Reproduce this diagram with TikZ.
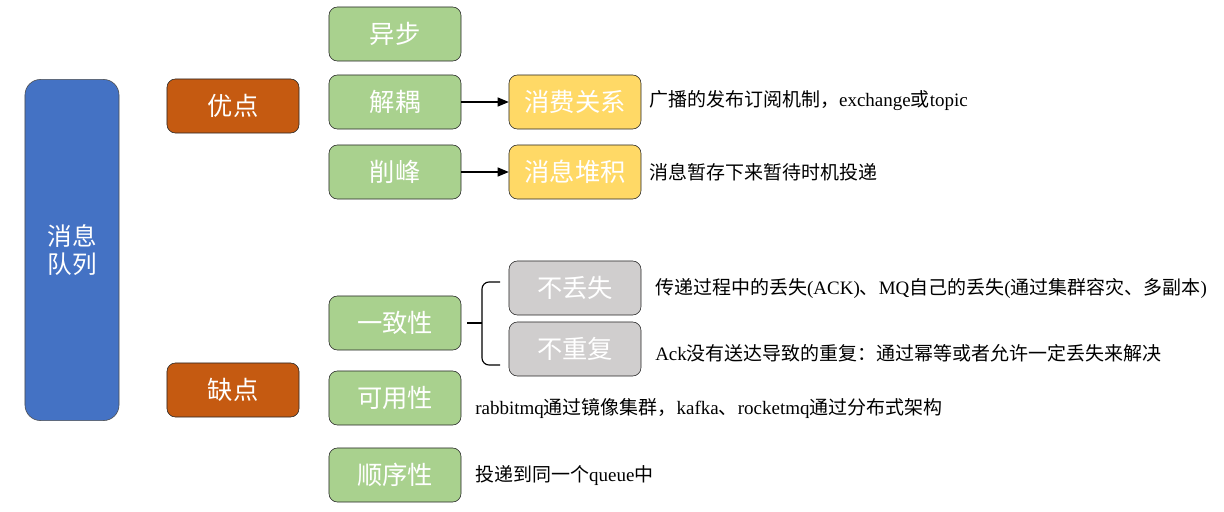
\documentclass[tikz,border=0pt]{standalone}
\usepackage{fontspec}
\setmainfont{Liberation Serif}
\newfontfamily\cjk{Noto Sans CJK SC}
\usepackage{xcolor}
\usetikzlibrary{arrows}
\definecolor{mqblue}{HTML}{4472C4}
\definecolor{mqorange}{HTML}{C55A11}
\definecolor{mqgreen}{HTML}{A9D18E}
\definecolor{mqyellow}{HTML}{FFD966}
\definecolor{mqgrey}{HTML}{D0CECE}
\tikzstyle{topic} = [rectangle, rounded corners=11pt, minimum width=2.35cm, minimum height=8.525cm, draw=black!70, fill=mqblue, text=white, align=center, font=\cjk\fontsize{17.5}{20}\selectfont]
\tikzstyle{kind} = [rectangle, rounded corners=6pt, minimum width=3.3cm, minimum height=1.35cm, inner sep=0pt, draw=black!85, fill=mqorange, text=white, font=\cjk\fontsize{18}{20}\selectfont]
\tikzstyle{feature} = [kind, fill=mqgreen]
\tikzstyle{detail} = [kind, fill=mqyellow]
\tikzstyle{guarantee} = [kind, fill=mqgrey]
\tikzstyle{note} = [anchor=west, inner sep=0pt, font=\fontsize{13.5}{16}\selectfont]
\tikzstyle{arrow} = [thick,-triangle 45]

\begin{document}
\begin{tikzpicture}[x=0.025cm, y=-0.025cm]
            \useasboundingbox (0,0) rectangle (1224,512);
            \node (mq) [topic] at (72,250) {消息\\队列};
            \node (pros) [kind] at (233,106) {优点};
            \node (cons) [kind] at (233,390) {缺点};

            \node (async) [feature] at (395,34) {异步};
            \node (decouple) [feature] at (395,102) {解耦};
            \node (peak) [feature] at (395,172) {削峰};
            \node (consist) [feature] at (395,323) {一致性};
            \node (avail) [feature] at (395,398) {可用性};
            \node (order) [feature] at (395,475) {顺序性};

            \node (consume) [detail] at (575,102) {消费关系};
            \node (pileup) [detail] at (575,172) {消息堆积};
            \node (noloss) [guarantee] at (575,288) {不丢失};
            \node (nodup) [guarantee] at (575,349) {不重复};

            \node (consumenote) [note] at (649,101) {{\cjk 广播的发布订阅机制，}exchange{\cjk 或}topic};
            \node (pileupnote) [note] at (649,172) {\cjk 消息暂存下来暂待时机投递};
            \node (nolossnote) [note] at (655,288) {{\cjk 传递过程中的丢失}(ACK){\cjk 、}MQ{\cjk 自己的丢失}({\cjk 通过集群容灾、多副本})};
            \node (nodupnote) [note] at (655,353) {Ack{\cjk 没有送达导致的重复：通过幂等或者允许一定丢失来解决}};
            \node (availnote) [note] at (475,408) {rabbitmq{\cjk 通过镜像集群，}kafka{\cjk 、}rocketmq{\cjk 通过分布式架构}};
            \node (ordernote) [note] at (475,476) {{\cjk 投递到同一个}queue{\cjk 中}};

            \draw [arrow] (decouple) -- (consume);
            \draw [arrow] (peak) -- (pileup);

            % brace for the two guarantees
            \coordinate (bracetop) at (500,282);
            \coordinate (bracebot) at (500,365);
            \coordinate (bracemid) at (482,323);
            \draw [thick, rounded corners=5pt] (bracetop) -| (bracemid) |- (bracebot);
            \draw [thick] (consist.east) ++(6,0) -- (bracemid);
        \end{tikzpicture}
\end{document}
